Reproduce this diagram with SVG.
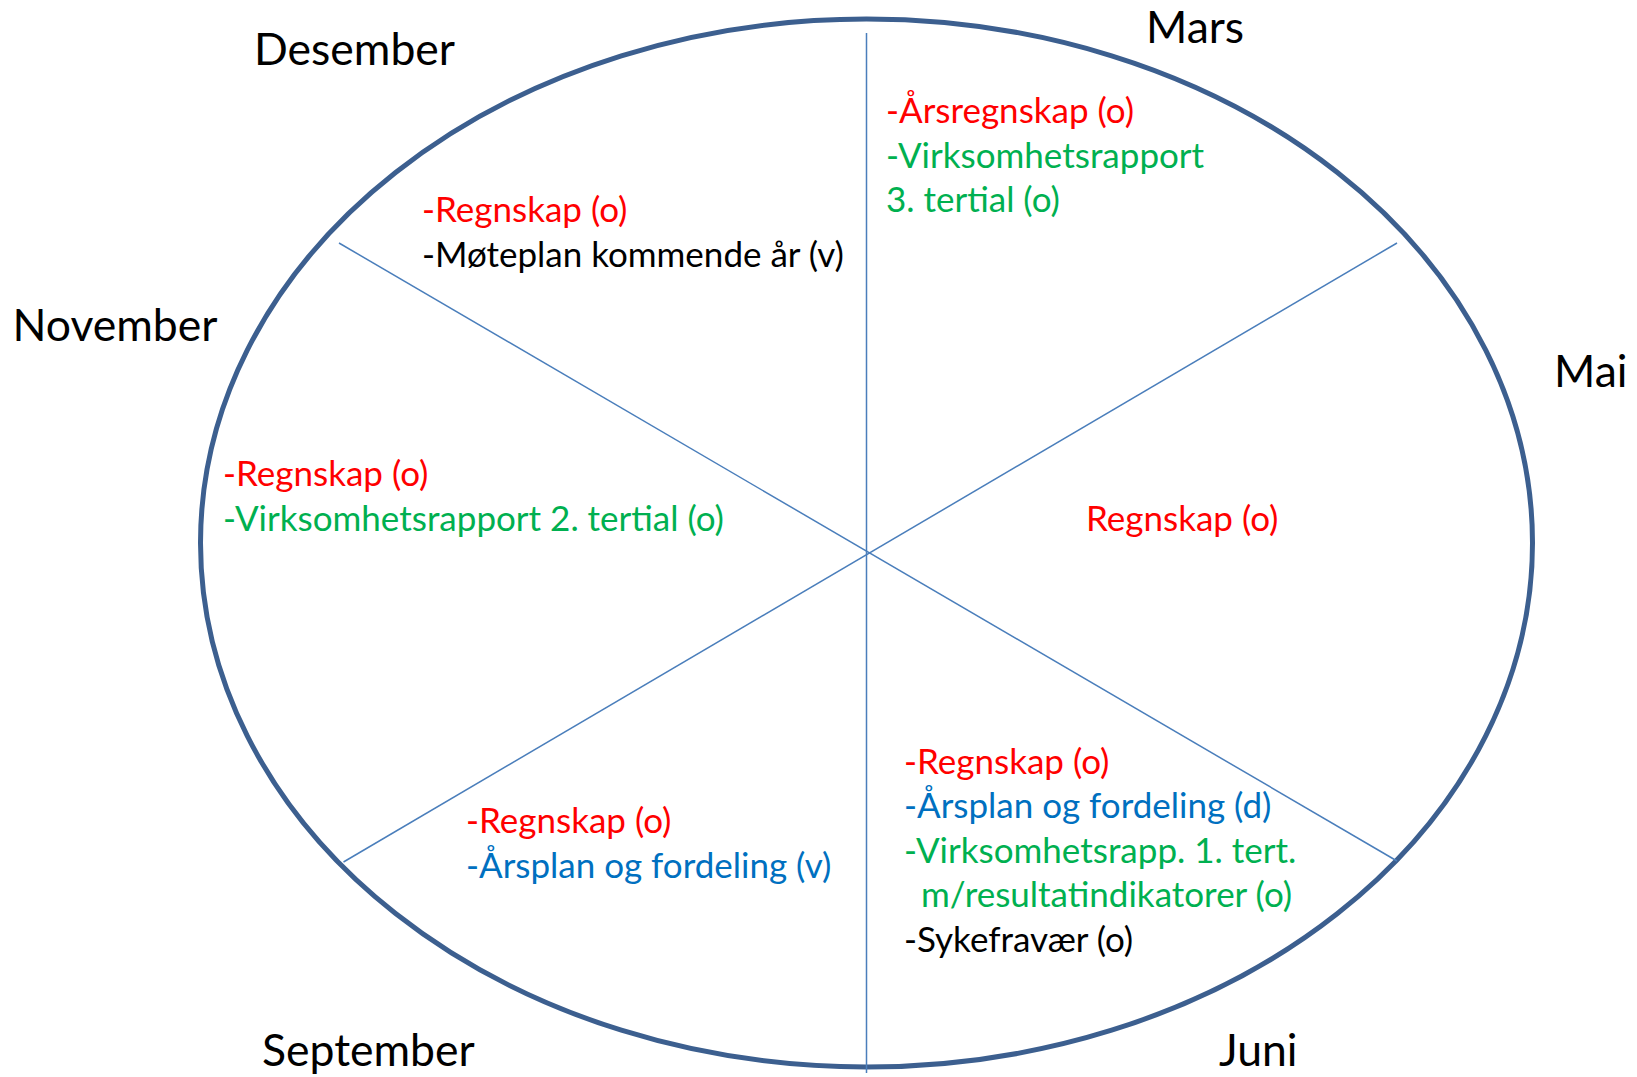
<svg xmlns="http://www.w3.org/2000/svg" width="1637" height="1077" viewBox="0 0 1637 1077">
<style>
text{font-family:Lato,"Open Sans","Liberation Sans",sans-serif}
.m{font-size:44.5px;fill:#000}
.i{font-size:35px}
.r{fill:#FF0000}.g{fill:#00B050}.b{fill:#0070C0}.k{fill:#000}
.div{stroke:#4A7EBB;stroke-width:1.5;fill:none}
</style>
<rect width="1637" height="1077" fill="#fff"/>
<g id="wheel">
<ellipse cx="866.5" cy="543" rx="666" ry="524" fill="none" stroke="#3C5F8F" stroke-width="5"/>
</g>
<g id="connectors">
<line class="div" x1="866.5" y1="33" x2="866.5" y2="1073"/>
<line class="div" x1="339" y1="243" x2="1397" y2="861"/>
<line class="div" x1="343.5" y1="862" x2="1397" y2="243"/>
</g>
<g id="months">
<text class="m" x="254" y="65">Desember</text>
<text class="m" x="1146" y="43">Mars</text>
<text class="m" x="12.5" y="341">November</text>
<text class="m" x="1554" y="387">Mai</text>
<text class="m" x="262" y="1066">September</text>
<text class="m" x="1219" y="1066">Juni</text>
</g>
<g id="desember">
<text class="i r" x="422" y="222">-Regnskap (o)</text>
<text class="i k" x="422" y="267">-Møteplan kommende år (v)</text>
</g>
<g id="mars">
<text class="i r" x="886" y="123">-Årsregnskap (o)</text>
<text class="i g" x="886" y="168">-Virksomhetsrapport</text>
<text class="i g" x="886" y="212">3. tertial (o)</text>
</g>
<g id="november">
<text class="i r" x="223" y="486">-Regnskap (o)</text>
<text class="i g" x="223" y="531">-Virksomhetsrapport 2. tertial (o)</text>
</g>
<g id="mai">
<text class="i r" x="1086" y="531">Regnskap (o)</text>
</g>
<g id="juni">
<text class="i r" x="904" y="774">-Regnskap (o)</text>
<text class="i b" x="904" y="818">-Årsplan og fordeling (d)</text>
<text class="i g" x="904" y="863">-Virksomhetsrapp. 1. tert.</text>
<text class="i g" x="921" y="907">m/resultatindikatorer (o)</text>
<text class="i k" x="904" y="952">-Sykefravær (o)</text>
</g>
<g id="september">
<text class="i r" x="466" y="833">-Regnskap (o)</text>
<text class="i b" x="466" y="878">-Årsplan og fordeling (v)</text>
</g>
</svg>
